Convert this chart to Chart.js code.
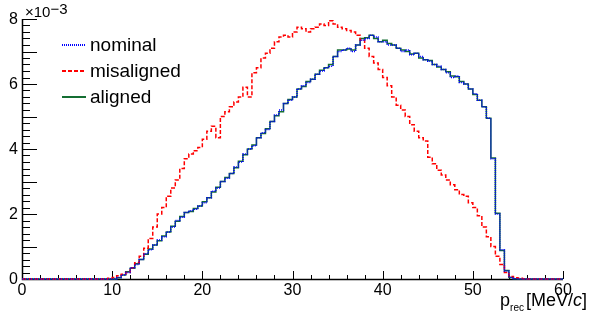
<!DOCTYPE html>
<html>
<head>
<meta charset="utf-8">
<script src="https://cdn.jsdelivr.net/npm/chart.js@4.4.0/dist/chart.umd.min.js"></script>
<style>
  html, body { margin: 0; padding: 0; background: #fff; }
  #c { display: block; }
</style>
</head>
<body>
<canvas id="c" width="589" height="322"></canvas>
<script>
// histogram bins (MeV/c), values in units of 1e-3
const binStart = 9.5;
const binWidth = 0.5;

const nominal = [
  0, 0, 0.05, 0.12, 0.2, 0.35, 0.45, 0.6, 0.78, 0.9,
  1.05, 1.2, 1.3, 1.45, 1.6, 1.8, 1.9, 2.05, 2.1, 2.15,
  2.25, 2.35, 2.5, 2.7, 2.8, 3.0, 3.1, 3.25, 3.45, 3.6,
  3.85, 4.0, 4.1, 4.35, 4.5, 4.6, 4.85, 5.05, 5.2, 5.4,
  5.5, 5.6, 5.85, 5.95, 6.05, 6.15, 6.3, 6.4, 6.5, 6.55,
  6.85, 7.0, 7.05, 7.1, 7.0, 7.2, 7.35, 7.4, 7.5, 7.45,
  7.3, 7.3, 7.2, 7.2, 7.1, 7.0, 7.05, 6.9, 6.95, 6.85,
  6.75, 6.7, 6.6, 6.55, 6.45, 6.35, 6.2, 6.25, 6.05, 6.0,
  5.85, 5.7, 5.5, 5.3, 4.95, 3.7, 2.0, 0.9, 0.25, 0.05,
  0.01, 0, 0, 0
];

const misaligned = [
  0.02, 0.05, 0.1, 0.15, 0.2, 0.35, 0.5, 0.7, 0.95, 1.25,
  1.6, 2.0, 2.2, 2.55, 2.8, 3.05, 3.4, 3.7, 3.85, 3.95,
  4.05, 4.3, 4.55, 4.7, 4.35, 5.0, 5.15, 5.3, 5.45, 5.6,
  5.9, 5.6, 6.35, 6.5, 6.8, 6.95, 7.1, 7.3, 7.45, 7.5,
  7.45, 7.6, 7.75, 7.7, 7.6, 7.7, 7.75, 7.85, 7.8, 7.95,
  7.85, 7.75, 7.7, 7.65, 7.6, 7.5, 7.35, 7.1, 6.85, 6.65,
  6.45, 6.2, 5.95, 5.6, 5.35, 5.2, 5.0, 4.75, 4.55, 4.35,
  4.25, 3.75, 3.55, 3.35, 3.2, 3.05, 2.9, 2.75, 2.6, 2.55,
  2.35, 2.2, 1.95, 1.6, 1.3, 1.0, 0.7, 0.45, 0.2, 0.08,
  0.04, 0.02, 0.01, 0
];

const aligned = [
  0, 0, 0.04, 0.12, 0.22, 0.33, 0.47, 0.6, 0.76, 0.92,
  1.05, 1.18, 1.32, 1.45, 1.62, 1.78, 1.92, 2.05, 2.08, 2.17,
  2.25, 2.38, 2.5, 2.68, 2.82, 3.0, 3.12, 3.25, 3.42, 3.62,
  3.82, 4.0, 4.12, 4.35, 4.48, 4.62, 4.85, 5.02, 5.15, 5.4,
  5.52, 5.6, 5.85, 5.92, 6.08, 6.15, 6.3, 6.42, 6.5, 6.6,
  6.85, 7.05, 7.05, 7.08, 7.05, 7.2, 7.4, 7.42, 7.5, 7.4,
  7.3, 7.35, 7.25, 7.2, 7.1, 7.05, 7.0, 6.92, 6.95, 6.8,
  6.75, 6.72, 6.6, 6.52, 6.45, 6.38, 6.25, 6.22, 6.08, 6.0,
  5.85, 5.68, 5.5, 5.3, 4.95, 3.72, 2.02, 0.88, 0.26, 0.05,
  0.01, 0, 0, 0
];

const seriesNames = ['nominal', 'misaligned', 'aligned'];
const xTicks = [0, 10, 20, 30, 40, 50, 60];
const yTicks = [0, 2, 4, 6, 8];

const FONT = '"Liberation Sans", Arial, Helvetica, sans-serif';
const lineStyles = [
  { color: 'rgb(0, 0, 255)', width: 1.5, dash: [1, 1] },
  { color: 'rgb(255, 0, 0)', width: 1.5, dash: [4, 2] },
  { color: 'rgb(20, 110, 50)', width: 1.5, dash: [] }
];

// turn bin contents into step points (lower edges) spanning 0..60
function histPoints(values) {
  const pts = [{x: 0, y: 0}];
  values.forEach((v, i) => pts.push({x: binStart + i * binWidth, y: v}));
  pts.push({x: binStart + values.length * binWidth, y: 0});
  pts.push({x: 60, y: 0});
  return pts;
}

// ROOT-like axes: inward ticks, labels, exponent, legend
const rootFrame = {
  id: 'rootFrame',
  beforeDatasetsDraw(chart) {
    const ctx = chart.ctx;
    const a = chart.chartArea;
    const x = chart.scales.x, y = chart.scales.y;
    ctx.save();
    ctx.strokeStyle = '#000';
    ctx.lineWidth = 1.5;
    ctx.beginPath();
    ctx.moveTo(a.left + 0.5, a.top);
    ctx.lineTo(a.left + 0.5, a.bottom + 0.5);
    ctx.lineTo(a.right, a.bottom + 0.5);
    ctx.stroke();
    ctx.lineWidth = 1;
    ctx.beginPath();
    for (let k = 0; k <= 40; k++) {
      const py = Math.round(y.getPixelForValue(k * 0.2)) + 0.5;
      const len = k % 5 === 0 ? 15 : 8;
      ctx.moveTo(a.left, py);
      ctx.lineTo(a.left + len, py);
    }
    for (let k = 0; k <= 30; k++) {
      const px = Math.round(x.getPixelForValue(k * 2)) + 0.5;
      const len = k % 5 === 0 ? 8 : 4;
      ctx.moveTo(px, a.bottom);
      ctx.lineTo(px, a.bottom - len);
    }
    ctx.stroke();

    ctx.fillStyle = '#000';
    ctx.font = '16px ' + FONT;
    ctx.textAlign = 'right';
    ctx.textBaseline = 'middle';
    yTicks.forEach(v => ctx.fillText(String(v), 18, y.getPixelForValue(v) + 1));
    ctx.textAlign = 'center';
    ctx.textBaseline = 'top';
    xTicks.forEach(v => ctx.fillText(String(v), x.getPixelForValue(v), 283));

    // exponent
    ctx.textAlign = 'left';
    ctx.textBaseline = 'alphabetic';
    ctx.font = '15px ' + FONT;
    ctx.fillText('\u00d710', 25, 17);
    const w10 = ctx.measureText('\u00d710').width;
    ctx.fillText('\u22123', 25 + w10, 14);

    // axis title p_rec [MeV/c]
    const big = '18px ' + FONT, small = '10px ' + FONT, ital = 'italic 18px ' + FONT;
    ctx.font = big; const wp = ctx.measureText('p').width;
    const wa = ctx.measureText('[MeV/').width;
    const wb = ctx.measureText(']').width;
    ctx.font = small; const wr = ctx.measureText('rec').width + 2;
    ctx.font = ital; const wc = ctx.measureText('c').width;
    let tx = 587 - (wp + wr + wa + wc + wb);
    const by = 306;
    ctx.font = big; ctx.fillText('p', tx, by); tx += wp;
    ctx.font = small; ctx.fillText('rec', tx, by + 5); tx += wr;
    ctx.font = big; ctx.fillText('[MeV/', tx, by); tx += wa;
    ctx.font = ital; ctx.fillText('c', tx, by); tx += wc;
    ctx.font = big; ctx.fillText(']', tx, by);
    ctx.restore();
  },
  afterDraw(chart) {
    const ctx = chart.ctx;
    ctx.save();
    const rowY = [45, 71, 97];
    seriesNames.forEach((name, i) => {
      const s = lineStyles[i];
      ctx.strokeStyle = s.color;
      ctx.lineWidth = 2;
      ctx.setLineDash(s.dash);
      ctx.beginPath();
      ctx.moveTo(62, rowY[i]);
      ctx.lineTo(86, rowY[i]);
      ctx.stroke();
      ctx.setLineDash([]);
      ctx.fillStyle = '#000';
      ctx.font = '19px ' + FONT;
      ctx.textAlign = 'left';
      ctx.textBaseline = 'middle';
      ctx.fillText(name, 90, rowY[i] + 1);
    });
    ctx.restore();
  }
};

const seriesData = [nominal, misaligned, aligned];

const config = {
  type: 'line',
  data: {
    datasets: seriesNames.map((name, i) => ({
      label: name,
      data: histPoints(seriesData[i]),
      borderColor: lineStyles[i].color,
      borderWidth: lineStyles[i].width,
      borderDash: lineStyles[i].dash,
      stepped: 'before',
      pointRadius: 0,
      clip: 4
    }))
  },
  options: {
    responsive: false,
    animation: false,
    events: [],
    layout: { padding: { left: 22, top: 19, right: 26, bottom: 43 } },
    scales: {
      x: { type: 'linear', min: 0, max: 60, display: false },
      y: { type: 'linear', min: 0, max: 8, display: false }
    },
    plugins: { legend: { display: false }, tooltip: { enabled: false } }
  },
  plugins: [rootFrame]
};

const myChart = new Chart(document.getElementById('c'), config);
</script>
</body>
</html>
